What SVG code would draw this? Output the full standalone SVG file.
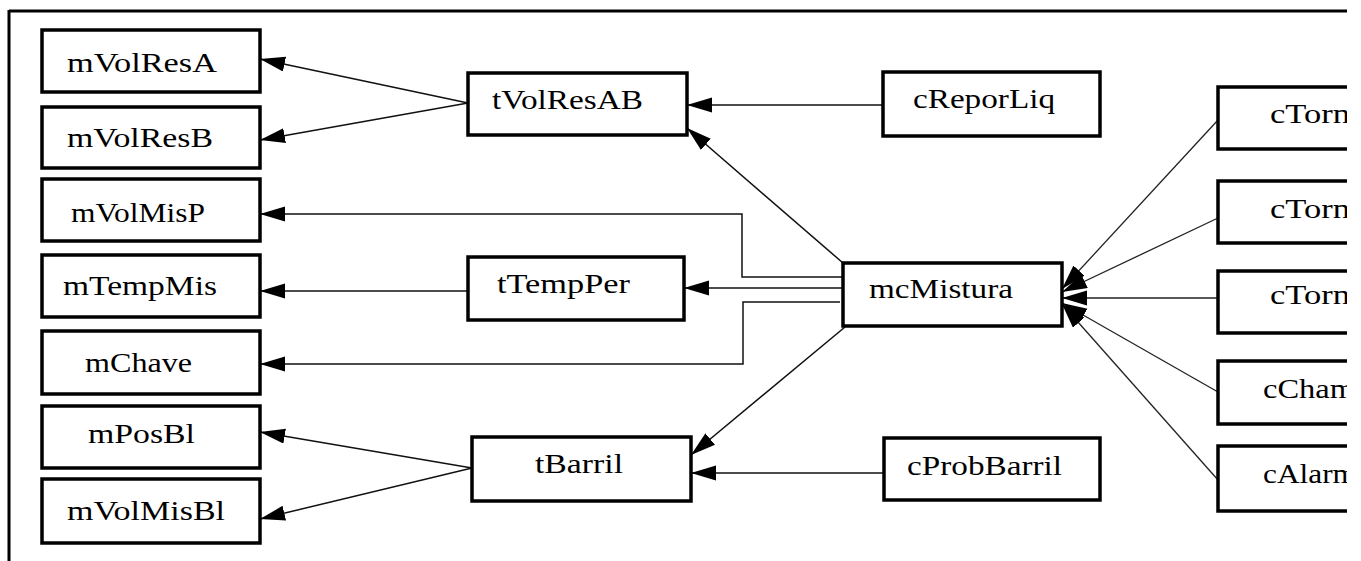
<svg xmlns="http://www.w3.org/2000/svg" width="1361" height="561" viewBox="0 0 1361 561">
  <style>
    .box { fill: #ffffff; stroke: #000000; stroke-width: 3.5; }
    .lbl { font-family: "Liberation Serif", "Times New Roman", serif; font-size: 27px; fill: #000000; }
    .edge { fill: none; stroke: #111111; stroke-width: 1.5; }
    .thin { fill: none; stroke: #222222; stroke-width: 1.3; }
    .frame { fill: none; stroke: #000000; stroke-width: 3; }
  </style>
  <defs>
    <marker id="arrow" markerUnits="userSpaceOnUse" markerWidth="26" markerHeight="16" refX="25" refY="7.5" orient="auto">
      <path d="M0,0 L25,7.5 L0,15 Z" fill="#000000"/>
    </marker>
    <clipPath id="page">
      <rect x="0" y="0" width="1347" height="561"/>
    </clipPath>
  </defs>

  <rect x="0" y="0" width="1361" height="561" fill="#ffffff"/>

  <g clip-path="url(#page)">
    <!-- outer frame: top and left edges -->
    <g id="frame">
      <line class="frame" x1="9" y1="11" x2="1361" y2="11"/>
      <line class="frame" x1="9" y1="10" x2="9" y2="561"/>
    </g>

    <!-- connectors -->
    <g id="connectors">
      <!-- tVolResAB fan-out -->
      <path class="edge" d="M468,103 L260,59" marker-end="url(#arrow)"/>
      <path class="edge" d="M468,103 L260,140" marker-end="url(#arrow)"/>
      <!-- cReporLiq -> tVolResAB -->
      <path class="edge" d="M883,105 L687,105" marker-end="url(#arrow)"/>
      <!-- mcMistura -> tVolResAB -->
      <path class="edge" d="M843,263 L687,128" marker-end="url(#arrow)"/>
      <!-- mcMistura -> mVolMisP -->
      <path class="edge" d="M843,277 L742,277 L742,214 L260,214" marker-end="url(#arrow)"/>
      <!-- mcMistura -> tTempPer -->
      <path class="edge" d="M843,288 L684,288" marker-end="url(#arrow)"/>
      <!-- tTempPer -> mTempMis -->
      <path class="edge" d="M468,291 L260,291" marker-end="url(#arrow)"/>
      <!-- mcMistura -> mChave -->
      <path class="edge" d="M840,302 L743,302 L743,364 L260,364" marker-end="url(#arrow)"/>
      <!-- mcMistura -> tBarril -->
      <path class="edge" d="M845,327 L691,455" marker-end="url(#arrow)"/>
      <!-- cProbBarril -> tBarril -->
      <path class="edge" d="M884,473 L691,473" marker-end="url(#arrow)"/>
      <!-- tBarril fan-out -->
      <path class="edge" d="M472,468 L260,432" marker-end="url(#arrow)"/>
      <path class="edge" d="M472,468 L260,519" marker-end="url(#arrow)"/>
      <!-- right-hand sources -> mcMistura -->
      <path class="thin" d="M1218,120 L1062,289" marker-end="url(#arrow)"/>
      <path class="thin" d="M1218,218 L1062,292" marker-end="url(#arrow)"/>
      <path class="thin" d="M1218,298 L1062,298" marker-end="url(#arrow)"/>
      <path class="thin" d="M1218,392 L1062,303" marker-end="url(#arrow)"/>
      <path class="thin" d="M1218,480 L1062,304" marker-end="url(#arrow)"/>
    </g>

    <!-- left column -->
    <g id="mVolResA">
      <rect class="box" x="42" y="30" width="218" height="62"/>
      <text class="lbl" x="67" y="72" textLength="150" lengthAdjust="spacingAndGlyphs">mVolResA</text>
    </g>
    <g id="mVolResB">
      <rect class="box" x="42" y="107" width="218" height="61"/>
      <text class="lbl" x="67" y="147" textLength="146" lengthAdjust="spacingAndGlyphs">mVolResB</text>
    </g>
    <g id="mVolMisP">
      <rect class="box" x="42" y="179" width="218" height="62"/>
      <text class="lbl" x="71" y="222" textLength="134" lengthAdjust="spacingAndGlyphs">mVolMisP</text>
    </g>
    <g id="mTempMis">
      <rect class="box" x="42" y="255" width="218" height="62"/>
      <text class="lbl" x="63" y="295" textLength="154" lengthAdjust="spacingAndGlyphs">mTempMis</text>
    </g>
    <g id="mChave">
      <rect class="box" x="42" y="331" width="218" height="63"/>
      <text class="lbl" x="85" y="372" textLength="107" lengthAdjust="spacingAndGlyphs">mChave</text>
    </g>
    <g id="mPosBl">
      <rect class="box" x="42" y="406" width="218" height="62"/>
      <text class="lbl" x="88" y="443" textLength="107" lengthAdjust="spacingAndGlyphs">mPosBl</text>
    </g>
    <g id="mVolMisBl">
      <rect class="box" x="42" y="479" width="218" height="64"/>
      <text class="lbl" x="67" y="520" textLength="158" lengthAdjust="spacingAndGlyphs">mVolMisBl</text>
    </g>

    <!-- middle column -->
    <g id="tVolResAB">
      <rect class="box" x="468" y="73" width="219" height="62"/>
      <text class="lbl" x="492" y="109" textLength="151" lengthAdjust="spacingAndGlyphs">tVolResAB</text>
    </g>
    <g id="tTempPer">
      <rect class="box" x="468" y="257" width="216" height="63"/>
      <text class="lbl" x="497" y="293" textLength="133" lengthAdjust="spacingAndGlyphs">tTempPer</text>
    </g>
    <g id="tBarril">
      <rect class="box" x="472" y="437" width="219" height="64"/>
      <text class="lbl" x="535" y="473" textLength="88" lengthAdjust="spacingAndGlyphs">tBarril</text>
    </g>

    <!-- central node -->
    <g id="mcMistura">
      <rect class="box" x="843" y="263" width="219" height="63"/>
      <text class="lbl" x="869" y="298" textLength="144" lengthAdjust="spacingAndGlyphs">mcMistura</text>
    </g>

    <!-- sources feeding the middle column -->
    <g id="cReporLiq">
      <rect class="box" x="883" y="72" width="217" height="64"/>
      <text class="lbl" x="913" y="108" textLength="142" lengthAdjust="spacingAndGlyphs">cReporLiq</text>
    </g>
    <g id="cProbBarril">
      <rect class="box" x="884" y="438" width="216" height="62"/>
      <text class="lbl" x="907" y="475" textLength="155" lengthAdjust="spacingAndGlyphs">cProbBarril</text>
    </g>

    <!-- right column -->
    <g id="cTorn1">
      <rect class="box" x="1218" y="87" width="219" height="62"/>
      <text class="lbl" x="1270" y="123" textLength="80" lengthAdjust="spacingAndGlyphs">cTorn</text>
    </g>
    <g id="cTorn2">
      <rect class="box" x="1218" y="181" width="219" height="62"/>
      <text class="lbl" x="1270" y="218" textLength="80" lengthAdjust="spacingAndGlyphs">cTorn</text>
    </g>
    <g id="cTorn3">
      <rect class="box" x="1218" y="271" width="219" height="62"/>
      <text class="lbl" x="1270" y="304" textLength="80" lengthAdjust="spacingAndGlyphs">cTorn</text>
    </g>
    <g id="cCham">
      <rect class="box" x="1218" y="361" width="219" height="63"/>
      <text class="lbl" x="1263" y="398" textLength="92" lengthAdjust="spacingAndGlyphs">cCham</text>
    </g>
    <g id="cAlarm">
      <rect class="box" x="1218" y="446" width="219" height="65"/>
      <text class="lbl" x="1263" y="483" textLength="94" lengthAdjust="spacingAndGlyphs">cAlarm</text>
    </g>
  </g>
</svg>
